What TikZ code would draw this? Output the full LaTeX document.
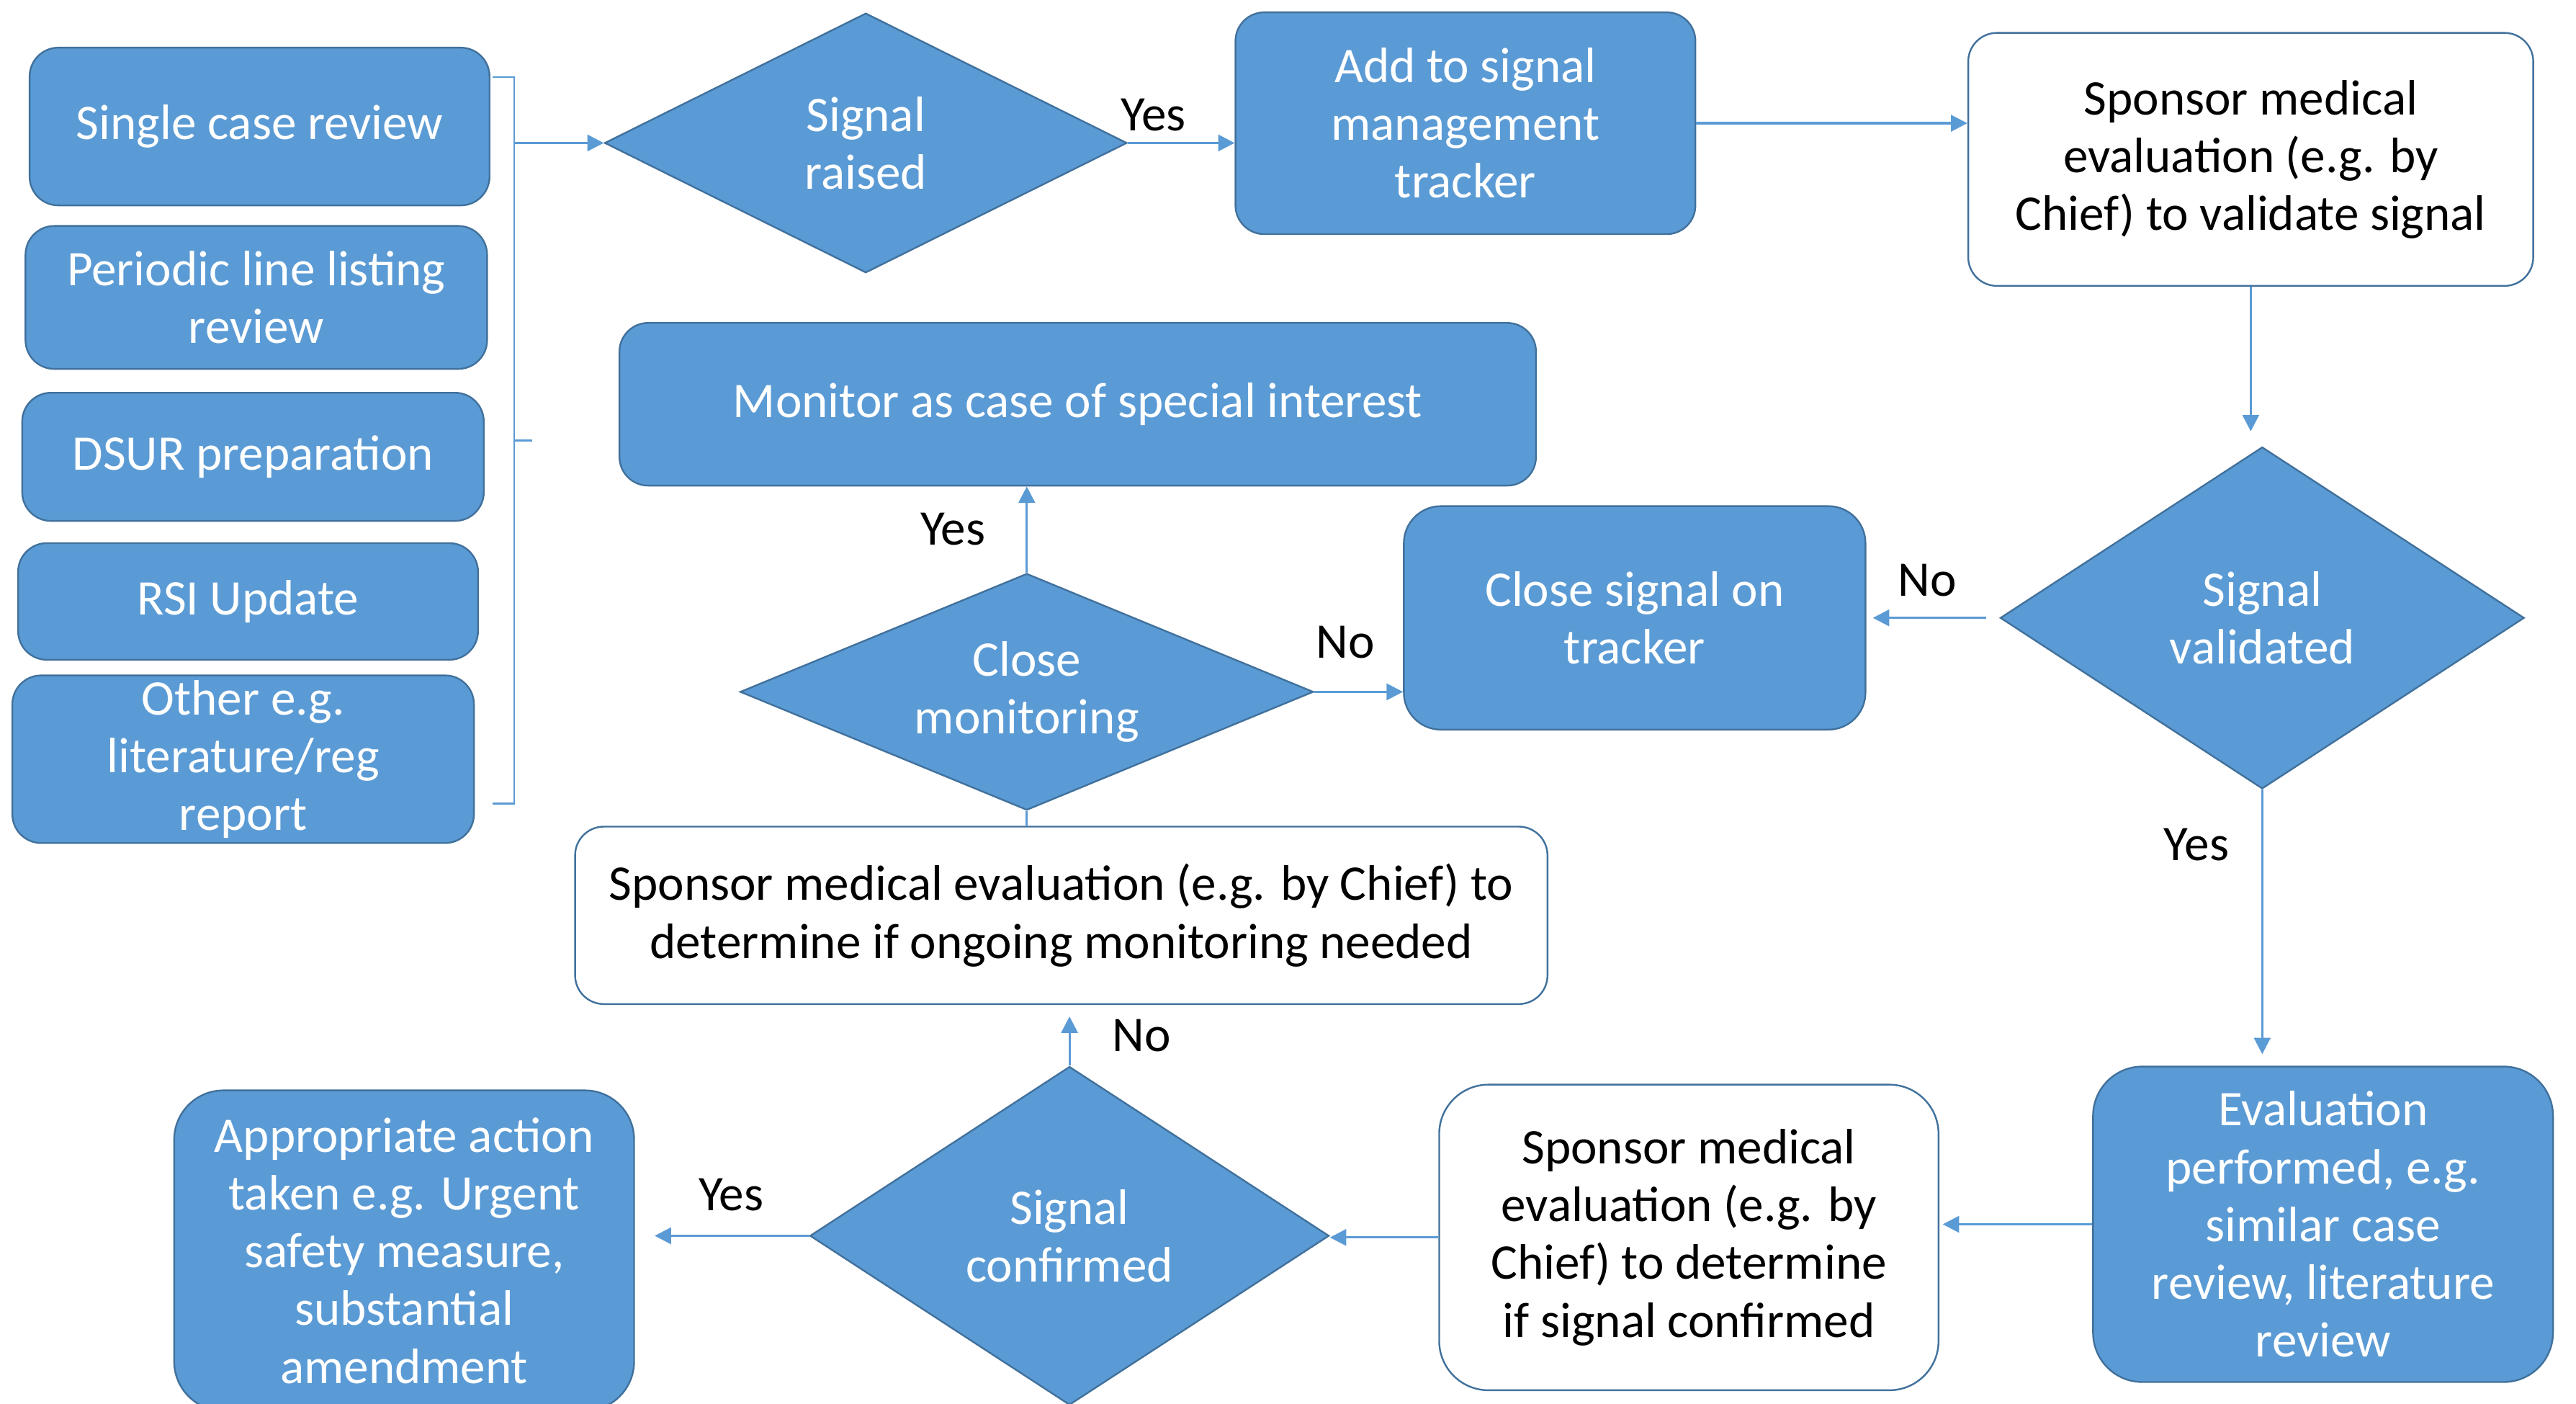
\documentclass[tikz,border=0pt]{standalone}
\usepackage{fontspec}
\setmainfont{Carlito}
\usetikzlibrary{shapes.geometric,arrows.meta}
\definecolor{officeblue}{HTML}{5B9BD5}
\definecolor{edgeblue}{HTML}{41719C}
\tikzset{
  bluebox/.style={draw=edgeblue, fill=officeblue, text=white, rounded corners=0.35cm,
    align=center, inner sep=0pt, line width=0.6pt},
  whitebox/.style={draw=edgeblue, fill=white, text=black, rounded corners=0.35cm,
    align=center, inner sep=0pt, line width=0.6pt},
  decision/.style={diamond, draw=edgeblue, fill=officeblue, text=white, align=center,
    inner sep=0pt, line width=0.6pt},
  flow/.style={draw=officeblue, line width=0.8pt, -{Triangle[length=0.2cm,width=0.2cm]}},
  link/.style={draw=officeblue, line width=0.8pt},
  answer/.style={text=black, inner sep=0pt}
}
\begin{document}
\begin{tikzpicture}[x=0.02cm, y=-0.02cm, font=\fontsize{17.25}{20}\selectfont]
    \useasboundingbox (0,0) rectangle (1568,854);

    % Sources of signals
    \node[bluebox, minimum width=5.6cm, minimum height=1.92cm] (scr) at (158,77) {Single case review};
    \node[bluebox, minimum width=5.62cm, minimum height=1.74cm] (pll) at (156,181) {Periodic line listing\\review};
    \node[bluebox, minimum width=5.62cm, minimum height=1.56cm] (dsur) at (154,278) {DSUR preparation};
    \node[bluebox, minimum width=5.6cm, minimum height=1.42cm] (rsi) at (151,366) {RSI Update};
    \node[bluebox, minimum width=5.62cm, minimum height=2.04cm] (oth) at (148,462) {Other e.g.\\literature/reg\\report};

    % Top row
    \node[decision, aspect=2, minimum width=6.36cm, minimum height=3.16cm] (sr) at (527,87) {Signal\\raised};
    \node[bluebox, minimum width=5.6cm, minimum height=2.7cm] (add) at (892,75) {Add to signal\\management\\tracker};
    \node[whitebox, minimum width=6.88cm, minimum height=3.08cm] (sme1) at (1370,97) {Sponsor medical\\evaluation (e.g. by\\Chief) to validate signal};

    % Middle row
    \node[decision, aspect=1.53, minimum width=6.38cm, minimum height=4.16cm] (sv) at (1377,376) {Signal\\validated};
    \node[bluebox, rounded corners=0.45cm, minimum width=5.62cm, minimum height=2.72cm] (csig) at (995,376) {Close signal on\\tracker};
    \node[decision, aspect=2.42, minimum width=6.98cm, minimum height=2.88cm] (cm) at (625,421) {Close\\monitoring};
    \node[bluebox, minimum width=11.16cm, minimum height=1.98cm] (mon) at (656,246) {Monitor as case of special interest};
    \node[whitebox, minimum width=11.84cm, minimum height=2.16cm] (sme2) at (646,557) {Sponsor medical evaluation (e.g. by Chief) to\\determine if ongoing monitoring needed};

    % Bottom row
    \node[decision, aspect=1.53, minimum width=6.32cm, minimum height=4.12cm] (sc) at (651,752) {Signal\\confirmed};
    \node[bluebox, rounded corners=0.6cm, minimum width=5.6cm, minimum height=3.9cm] (app) at (246,761) {Appropriate action\\taken e.g. Urgent\\safety measure,\\substantial\\amendment};
    \node[whitebox, rounded corners=0.6cm, minimum width=6.08cm, minimum height=3.72cm] (sme3) at (1028,753) {Sponsor medical\\evaluation (e.g. by\\Chief) to determine\\if signal confirmed};
    \node[bluebox, rounded corners=0.6cm, minimum width=5.6cm, minimum height=3.84cm] (eval) at (1414,745) {Evaluation\\performed, e.g.\\similar case\\review, literature\\review};

    % Brace gathering the sources
    \coordinate (brtop) at (300,47);
    \coordinate (brmid) at (313,87);
    \coordinate (brbot) at (300,489);
    \draw[link, line width=0.6pt] (brtop) -- (313,47) -- (313,489) -- (brbot);
    \draw[link, line width=0.6pt] (313,268) -- (324,268);
    \draw[flow] (brmid) -- (sr.west);

    % Connectors
    \draw[flow] (sr.east) -- (sr.east -| add.west);
    \draw[flow] (add.east) -- (add.east -| sme1.west);
    \draw[flow, shorten >=0.18cm] (sme1.south) -- (sme1.south |- sv.north);
    \draw[flow, shorten <=0.16cm, shorten >=0.08cm] (sv.west) -- (sv.west -| csig.east);
    \draw[flow, shorten >=0.14cm] (sv.south) -- (sv.south |- eval.north);
    \draw[flow, shorten >=0.04cm] (eval.west) -- (eval.west -| sme3.east);
    \draw[flow] (sme3.west) -- (sme3.west -| sc.east);
    \draw[flow, shorten >=0.24cm] (sc.west) -- (sc.west -| app.east);
    \draw[flow, shorten >=0.14cm] (sc.north) -- (sc.north |- sme2.south);
    \draw[link] (cm.south) -- (cm.south |- sme2.north);
    \draw[flow] (cm.north) -- (cm.north |- mon.south);
    \draw[flow] (cm.east) -- (cm.east -| csig.west);

    % Yes / No labels
    \node[answer] (y1) at (702,70) {Yes};
    \node[answer] (n1) at (1173,353) {No};
    \node[answer] (n2) at (819,391) {No};
    \node[answer] (y2) at (580,322) {Yes};
    \node[answer] (n3) at (695,630) {No};
    \node[answer] (y3) at (445,727) {Yes};
    \node[answer] (y4) at (1337,514) {Yes};
\end{tikzpicture}
\end{document}
